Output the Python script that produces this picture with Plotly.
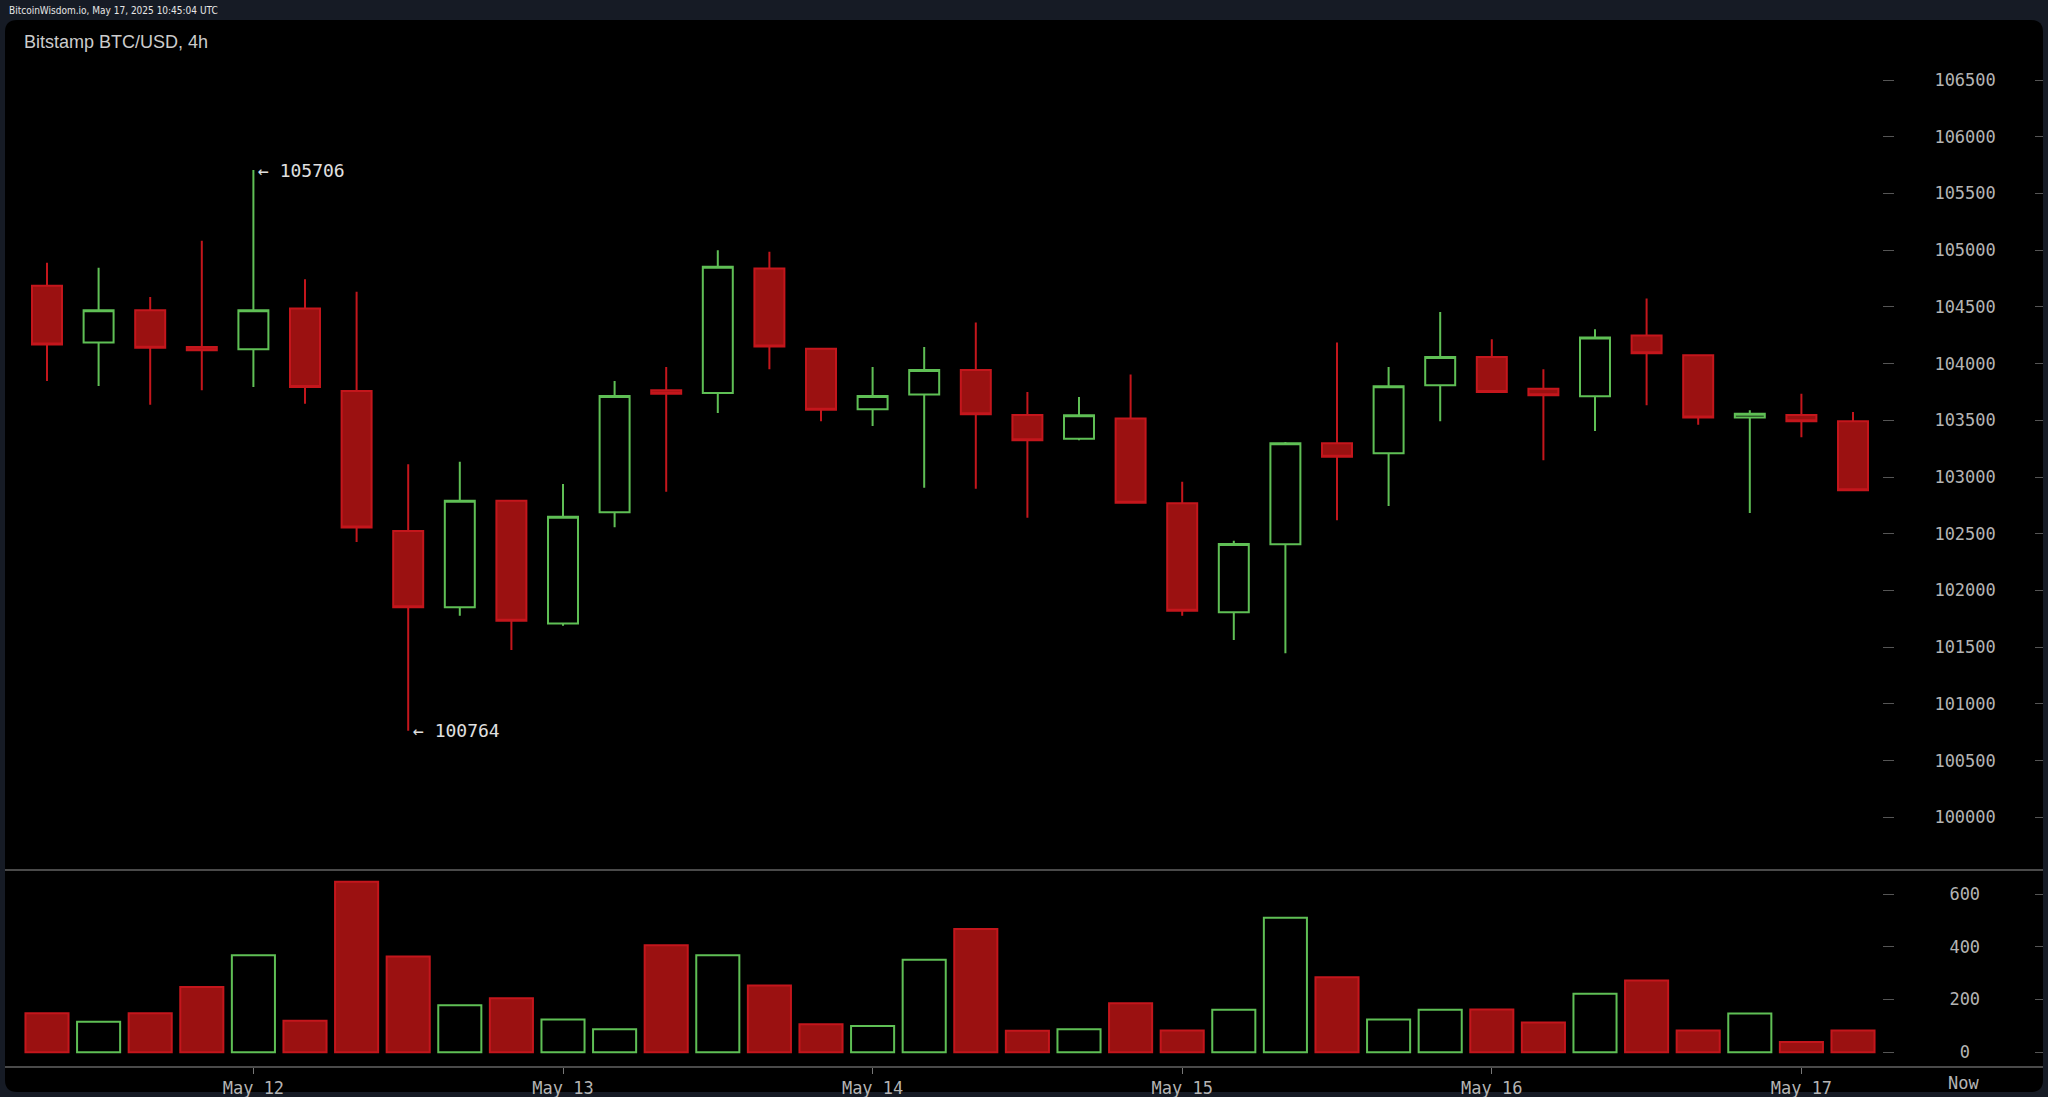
import plotly.graph_objects as go
import pandas as pd

# 4h candles, Bitstamp BTC/USD, May 11 08:00 -> May 17 04:00 UTC
times = pd.date_range("2025-05-11 08:00", periods=36, freq="4h")

opens = [104686, 104185, 104471, 104147, 104126, 104485, 103759, 102525, 101852, 102792,
         101708, 102689, 103765, 103741, 104838, 104132, 103597, 103727, 103944, 103547,
         103338, 103515, 102769, 101808, 102407, 103297, 103210, 103809, 104059, 103779,
         103712, 104247, 104074, 103524, 103547, 103491]
highs = [104889, 104844, 104588, 105083, 105706, 104744, 104633, 103112, 103135, 102792,
         102939, 103847, 103970, 105000, 104985, 104132, 103971, 104147, 104362, 103750,
         103706, 103903, 102958, 102439, 103310, 104185, 103971, 104456, 104215, 103950,
         104303, 104574, 104074, 103588, 103735, 103574]
lows = [103847, 103803, 103638, 103765, 103794, 103647, 102427, 100764, 101778, 101476,
        101690, 102557, 102871, 103565, 103950, 103491, 103450, 102906, 102897, 102641,
        103324, 102774, 101778, 101564, 101447, 102620, 102745, 103491, 103750, 103147,
        103406, 103632, 103462, 102682, 103350, 102883]
closes = [104168, 104471, 104139, 104117, 104471, 103794, 102556, 101852, 102792, 101734,
          102651, 103715, 103735, 104853, 104150, 103594, 103715, 103944, 103553, 103324,
          103544, 102774, 101822, 102410, 103297, 103180, 103800, 104059, 103750, 103720,
          104230, 104091, 103524, 103559, 103491, 102883]
volumes = [148, 116, 148, 247, 368, 119, 646, 363, 178, 205,
           124, 87, 406, 368, 253, 106, 99, 351, 467, 81,
           87, 186, 82, 161, 510, 284, 124, 161, 162, 113,
           222, 272, 82, 147, 39, 82]

price_ticks = list(range(100000, 107000, 500))
vol_ticks = [0, 200, 400, 600]
vol_tick_text = ["\u00a00", "200", "400", "600"]
date_ticks = ["2025-05-12", "2025-05-13", "2025-05-14", "2025-05-15", "2025-05-16", "2025-05-17"]
date_labels = ["May 12", "May 13", "May 14", "May 15", "May 16", "May 17"]

header_text = "BitcoinWisdom.io, May 17, 2025 10:45:04 UTC"
title_text = "Bitstamp BTC/USD, 4h"

W, H = 2048, 1097
RED_FILL = "#9b1111"
RED_LINE = "#c4161c"
GREEN = "#5fbf55"
MONO = "DejaVu Sans Mono"


def px(x):
    return x / W


def py(y):
    return 1 - y / H


# pixel calibration of the original chart
plot_left, plot_right = 10, 1882
first_px, step_px = 47, 51.6
step = pd.Timedelta(hours=4)
x_range = [times[0] - step * ((first_px - plot_left) / step_px),
           times[0] + step * ((plot_right - first_px) / step_px)]
price_range = [99536, 106694]
vol_range = [-56, 691]

up = [c >= o for o, c in zip(opens, closes)]

fig = go.Figure()

fig.add_trace(go.Candlestick(
    x=times, open=opens, high=highs, low=lows, close=closes,
    increasing=dict(line=dict(color=GREEN, width=2), fillcolor="rgba(0,0,0,0)"),
    decreasing=dict(line=dict(color=RED_LINE, width=2), fillcolor=RED_FILL),
    whiskerwidth=0, showlegend=False, xaxis="x", yaxis="y",
))

fig.add_trace(go.Bar(
    x=times, y=volumes,
    marker=dict(
        color=["rgba(0,0,0,0)" if u else RED_FILL for u in up],
        line=dict(color=[GREEN if u else RED_LINE for u in up], width=2),
    ),
    showlegend=False, xaxis="x2", yaxis="y2",
))

# empty traces so the right-edge tick rulers (y3 / y4) get drawn
for ya, xa in (("y3", "x"), ("y4", "x2")):
    fig.add_trace(go.Scatter(x=[None], y=[None], mode="markers", xaxis=xa, yaxis=ya,
                             showlegend=False, hoverinfo="skip"))

# high / low markers
hi_i = highs.index(max(highs))
lo_i = lows.index(min(lows))
annotations = [
    dict(x=times[hi_i], y=highs[hi_i], xref="x", yref="y", text=f"\u2190 {highs[hi_i]}",
         showarrow=False, xanchor="left", yanchor="middle", xshift=3,
         font=dict(family=MONO, size=18, color="#e0e0e0")),
    dict(x=times[lo_i], y=lows[lo_i], xref="x", yref="y", text=f"\u2190 {lows[lo_i]}",
         showarrow=False, xanchor="left", yanchor="middle", xshift=3,
         font=dict(family=MONO, size=18, color="#e0e0e0")),
    dict(x=px(7), y=py(10), xref="paper", yref="paper", text=header_text,
         showarrow=False, xanchor="left", yanchor="middle",
         font=dict(family="DejaVu Sans Condensed, Liberation Sans Narrow, Liberation Sans",
                   size=10, color="#e6e6e6")),
    dict(x=px(22), y=py(42), xref="paper", yref="paper", text=title_text,
         showarrow=False, xanchor="left", yanchor="middle",
         font=dict(family="Liberation Sans", size=18, color="#cccccc")),
    dict(x=px(1963), y=py(1083), xref="paper", yref="paper", text="Now",
         showarrow=False, xanchor="center", yanchor="middle",
         font=dict(family=MONO, size=17, color="#b4b4b4")),
]

# rounded black panel
x0, x1, y0, y1 = px(5), px(2043), py(1092), py(20)
rx, ry = 12 / W, 12 / H
panel_path = (f"M {x0 + rx},{y1} L {x1 - rx},{y1} Q {x1},{y1} {x1},{y1 - ry} "
              f"L {x1},{y0 + ry} Q {x1},{y0} {x1 - rx},{y0} "
              f"L {x0 + rx},{y0} Q {x0},{y0} {x0},{y0 + ry} "
              f"L {x0},{y1 - ry} Q {x0},{y1} {x0 + rx},{y1} Z")
shapes = [
    dict(type="path", path=panel_path, xref="paper", yref="paper",
         fillcolor="#000000", line=dict(width=0), layer="below"),
    dict(type="line", xref="paper", yref="paper", x0=x0, x1=x1, y0=py(870), y1=py(870),
         line=dict(color="#4a4a4a", width=2)),
    dict(type="line", xref="paper", yref="paper", x0=x0, x1=x1, y0=py(1067), y1=py(1067),
         line=dict(color="#4a4a4a", width=2)),
]

tick_font = dict(family=MONO, size=17, color="#b4b4b4")
xdom = [px(plot_left), px(plot_right)]

fig.update_layout(
    width=W, height=H,
    margin=dict(l=0, r=0, t=0, b=0),
    paper_bgcolor="#161b25",
    plot_bgcolor="rgba(0,0,0,0)",
    boxgap=0.17,
    bargap=0.165,
    showlegend=False,
    annotations=annotations,
    shapes=shapes,
    xaxis=dict(domain=xdom, range=x_range, anchor="y", showticklabels=False,
               showgrid=False, zeroline=False, ticks="", rangeslider=dict(visible=False)),
    xaxis2=dict(domain=xdom, range=x_range, anchor="y2", matches="x",
                tickvals=date_ticks, ticktext=date_labels, ticks="outside", ticklen=6,
                tickcolor="#777777", tickfont=tick_font, showgrid=False, zeroline=False),
    yaxis=dict(domain=[py(870), py(58)], range=price_range, side="right", anchor="x",
               tickvals=price_ticks, tickformat="d", ticks="outside", ticklen=11,
               tickcolor="#555555", tickfont=tick_font, ticklabelstandoff=37,
               showgrid=False, zeroline=False),
    yaxis2=dict(domain=[py(1067), py(870)], range=vol_range, side="right", anchor="x2",
                tickvals=vol_ticks, ticktext=vol_tick_text, ticks="outside", ticklen=11,
                tickcolor="#555555", tickfont=tick_font, ticklabelstandoff=52,
                showgrid=False, zeroline=False),
    yaxis3=dict(overlaying="y", anchor="free", position=px(2043), side="left",
                range=price_range, tickvals=price_ticks, ticks="outside", ticklen=8,
                tickcolor="#555555", showticklabels=False, showgrid=False, zeroline=False,
                showline=False),
    yaxis4=dict(overlaying="y2", anchor="free", position=px(2043), side="left",
                range=vol_range, tickvals=vol_ticks, ticks="outside", ticklen=8,
                tickcolor="#555555", showticklabels=False, showgrid=False, zeroline=False,
                showline=False),
)

# the page is photographed edge to edge, so drop the default body margin
fig.write_html("out.html", config={"displayModeBar": False},
               post_script="document.body.style.margin='0px';")
